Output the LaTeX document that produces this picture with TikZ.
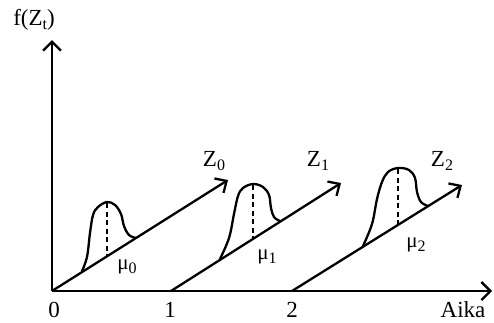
\documentclass[tikz,border=0pt]{standalone}
\usepackage{fontspec}
\setmainfont{Liberation Serif}
\usetikzlibrary{arrows.meta}
\newcommand{\lowsub}[1]{\lower4pt\hbox{\fontsize{16}{16}\selectfont #1}}
\begin{document}
\begin{tikzpicture}[x=1pt,y=-1pt,
  axis/.style={line width=2.3pt,-{Straight Barb[length=9pt,width=18pt,line width=2.3pt]}},
  zarrow/.style={line width=2.3pt,-{Straight Barb[length=9pt,width=17pt,line width=2.3pt]}},
  bump/.style={line width=2.3pt},
  dline/.style={line width=1.3pt,dash pattern=on 5pt off 3.5pt},
  lbl/.style={inner sep=0pt,font=\fontsize{23}{23}\selectfont},
  sml/.style={inner sep=0pt,font=\fontsize{21}{21}\selectfont}]
\useasboundingbox (0,0) rectangle (494,322);
% axes
\coordinate (O) at (52,291);
\coordinate (ytop) at (52,40);
\coordinate (xend) at (492,291);
\draw[axis] (O) -- (ytop);
\draw[axis] (O) -- (xend);
% diagonal arrows
\coordinate (s0) at (52,291);
\coordinate (s1) at (171,291);
\coordinate (s2) at (292,291);
\coordinate (e0) at (228,180);
\coordinate (e1) at (341,183);
\coordinate (e2) at (462,185);
\draw[zarrow] (s0) -- (e0);
\draw[zarrow] (s1) -- (e1);
\draw[zarrow] (s2) -- (e2);
% bumps
\draw[bump] plot[smooth,tension=0.6] coordinates {(82,271) (87,257) (90,233) (93,215) (98,207) (107,202) (115,205) (121,214) (124,226) (129,235) (136,238)};
\draw[bump] plot[smooth,tension=0.6] coordinates {(220,259) (229,238) (234,214) (238,196) (243,188) (253,184) (263,187) (269,195) (271,208) (274,217) (280,221)};
\draw[bump] plot[smooth,tension=0.6] coordinates {(363,246) (372,224) (377,199) (382,182) (388,172) (398,168) (409,170) (415,178) (417,192) (421,202) (428,206)};
% dashed verticals
\coordinate (p0t) at (107,203); \coordinate (p0b) at (107,257);
\coordinate (p1t) at (253,185); \coordinate (p1b) at (253,240);
\coordinate (p2t) at (398,169); \coordinate (p2b) at (398,224);
\draw[dline] (p0t) -- (p0b);
\draw[dline] (p1t) -- (p1b);
\draw[dline] (p2t) -- (p2b);
% labels
\node[lbl] (fz) at (34,20) {f(Z\lowsub{t})};
\node[lbl] (l0) at (54,310) {0};
\node[lbl] (l1) at (170,310) {1};
\node[lbl] (l2) at (292,310) {2};
\node[lbl] (aika) at (463,310) {Aika};
\node[lbl] (z0) at (214,161) {Z\lowsub{0}};
\node[lbl] (z1) at (318,161) {Z\lowsub{1}};
\node[lbl] (z2) at (442,161) {Z\lowsub{2}};
\node[sml] (m0) at (127,267) {μ\lowsub{0}};
\node[sml] (m1) at (267,257) {μ\lowsub{1}};
\node[sml] (m2) at (416,245) {μ\lowsub{2}};
\end{tikzpicture}
\end{document}
